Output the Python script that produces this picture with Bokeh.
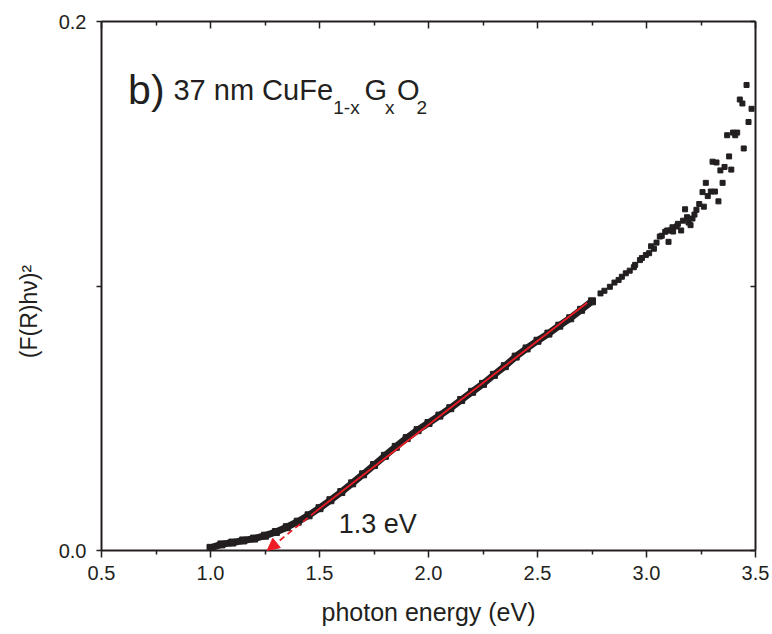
from bokeh.plotting import figure
from bokeh.models import (LinearAxis, FixedTicker, Label, Arrow, NormalHead,
                          PrintfTickFormatter, Range1d)
from bokeh.embed import file_html
from bokeh.resources import INLINE

# ---------------- data ----------------
dense_x = [1.00, 1.05, 1.10, 1.15, 1.20, 1.25, 1.30, 1.35, 1.40, 1.45,
           1.50, 1.55, 1.60, 1.65, 1.70, 1.75, 1.80, 1.85, 1.90, 1.95,
           2.00, 2.05, 2.10, 2.15, 2.20, 2.25, 2.30, 2.35, 2.40, 2.45,
           2.50, 2.55, 2.60, 2.65, 2.70, 2.75]
dense_y = [0.0010, 0.0023, 0.0030, 0.0038, 0.0045, 0.0056, 0.0070, 0.0088, 0.0109, 0.0133,
           0.0160, 0.0190, 0.0221, 0.0254, 0.0288, 0.0323, 0.0358, 0.0392, 0.0425, 0.0455,
           0.0482, 0.0510, 0.0538, 0.0569, 0.0600, 0.0630, 0.0664, 0.0697, 0.0733, 0.0764,
           0.0793, 0.0820, 0.0850, 0.0878, 0.0910, 0.0942]

noisy_x = [2.789, 2.807, 2.832, 2.853, 2.872, 2.887, 2.905, 2.923, 2.942, 2.948,
           2.970, 2.979, 2.997, 3.012, 3.021, 3.034, 3.046, 3.061, 3.070, 3.086,
           3.095, 3.101, 3.110, 3.119, 3.122, 3.138, 3.144, 3.159, 3.168, 3.177,
           3.186, 3.193, 3.202, 3.211, 3.220, 3.229, 3.242, 3.257, 3.263, 3.272,
           3.281, 3.295, 3.303, 3.314, 3.321, 3.330, 3.339, 3.349, 3.358, 3.370,
           3.379, 3.389, 3.397, 3.407, 3.416, 3.428, 3.440, 3.446, 3.459, 3.468,
           3.482]
noisy_y = [0.0972, 0.0982, 0.0997, 0.1013, 0.1023, 0.1035, 0.1048, 0.1058, 0.1071, 0.1080,
           0.1098, 0.1106, 0.1117, 0.1124, 0.1150, 0.1141, 0.1164, 0.1187, 0.1190, 0.1205,
           0.1210, 0.1167, 0.1210, 0.1222, 0.1206, 0.1225, 0.1235, 0.1210, 0.1247, 0.1290,
           0.1260, 0.1240, 0.1230, 0.1255, 0.1270, 0.1288, 0.1310, 0.1355, 0.1300, 0.1390,
           0.1340, 0.1357, 0.1470, 0.1357, 0.1467, 0.1320, 0.1437, 0.1390, 0.1450, 0.1570,
           0.1490, 0.1440, 0.1580, 0.1570, 0.1580, 0.1705, 0.1690, 0.1520, 0.1760, 0.1620,
           0.1670]

fit_x = [1.482, 2.728]        # solid part of the linear fit
fit_y = [0.0147, 0.0937]
onset_x = 1.26                # extrapolated band gap (arrow tip)
onset_y = 0.0

x_major = [0.5, 1.0, 1.5, 2.0, 2.5, 3.0, 3.5]
x_minor = [0.75, 1.25, 1.75, 2.25, 2.75, 3.25]
y_major = [0.0, 0.2]
y_minor = [0.1]

FONT = "Liberation Sans"
INK = "#231f20"
RED = "#ee1c25"

p = figure(width=772, height=634, x_range=Range1d(0.5, 3.5), y_range=Range1d(0.0, 0.2),
           output_backend="svg", toolbar_location=None,
           min_border_left=101, min_border_right=17, min_border_top=21, min_border_bottom=84,
           x_axis_location=None, y_axis_location=None)
p.outline_line_color = None
p.xgrid.visible = False
p.ygrid.visible = False
p.background_fill_color = "white"
p.border_fill_color = "white"

def style(ax):
    ax.axis_line_color = INK
    ax.axis_line_width = 2
    ax.major_tick_line_color = INK
    ax.minor_tick_line_color = INK
    ax.major_tick_line_width = 1.5
    ax.minor_tick_line_width = 1.5
    ax.major_label_text_font = FONT
    ax.major_label_text_color = INK
    ax.axis_label_text_font = FONT
    ax.axis_label_text_color = INK
    ax.axis_label_text_font_style = "normal"

def silent(ax):
    ax.major_label_text_color = None
    ax.major_label_text_font_size = "1px"
    ax.major_label_standoff = 0

xb = LinearAxis(ticker=FixedTicker(ticks=x_major, minor_ticks=x_minor),
                formatter=PrintfTickFormatter(format="%.1f"),
                axis_label="photon energy (eV)")
style(xb)
xb.major_tick_out = 7; xb.major_tick_in = 0
xb.minor_tick_out = 4; xb.minor_tick_in = 0
xb.major_label_text_font_size = "20px"
xb.major_label_standoff = 8
xb.axis_label_text_font_size = "25px"
xb.axis_label_standoff = 15
p.add_layout(xb, "below")

xt = LinearAxis(ticker=FixedTicker(ticks=x_major, minor_ticks=x_minor))
style(xt)
silent(xt)
xt.major_tick_out = 0; xt.major_tick_in = 7
xt.minor_tick_out = 0; xt.minor_tick_in = 4
p.add_layout(xt, "above")

yl = LinearAxis(ticker=FixedTicker(ticks=y_major, minor_ticks=y_minor),
                formatter=PrintfTickFormatter(format="%.1f"),
                axis_label="(F(R)hν)²\u2007\u2007\u2007\u2007")
style(yl)
yl.major_tick_out = 5; yl.major_tick_in = 0
yl.minor_tick_out = 5; yl.minor_tick_in = 0
yl.major_label_text_font_size = "20px"
yl.major_label_standoff = 10
yl.axis_label_text_font_size = "23px"
yl.axis_label_standoff = 14
p.add_layout(yl, "left")

yr = LinearAxis(ticker=FixedTicker(ticks=y_major, minor_ticks=y_minor))
style(yr)
silent(yr)
yr.major_tick_out = 0; yr.major_tick_in = 5
yr.minor_tick_out = 0; yr.minor_tick_in = 5
p.add_layout(yr, "right")

# data
p.line(dense_x, dense_y, line_color=INK, line_width=7)
p.scatter(dense_x, dense_y, marker="square", size=7, color=INK)
p.scatter(noisy_x, noisy_y, marker="square", size=5, color=INK)

# linear fit and extrapolation arrow
p.line(fit_x, fit_y, line_color=RED, line_width=1.8)
p.add_layout(Arrow(end=NormalHead(size=12, fill_color=RED, line_color=RED, line_width=1),
                   x_start=fit_x[0], y_start=fit_y[0], x_end=onset_x, y_end=onset_y,
                   line_color=RED, line_width=1.8, line_dash="6 4"))

def lab(x, y, t, size, **kw):
    p.add_layout(Label(x=x, y=y, text=t, text_font=FONT, text_font_size=size,
                       text_color=INK, text_baseline="alphabetic", **kw))

base = 0.1742
sub = 0.1674
lab(0.622, base, "b)", "41px")
lab(0.830, base, "37 nm CuFe", "29px")
lab(1.563, sub, "1-x", "19px")
lab(1.706, base, "G", "29px")
lab(1.800, sub, "x", "19px")
lab(1.855, base, "O", "29px")
lab(1.945, sub, "2", "19px")
lab(1.588, 0.0102, "1.3 eV", "27px")

open("out.html", "w").write(file_html(p, INLINE))
